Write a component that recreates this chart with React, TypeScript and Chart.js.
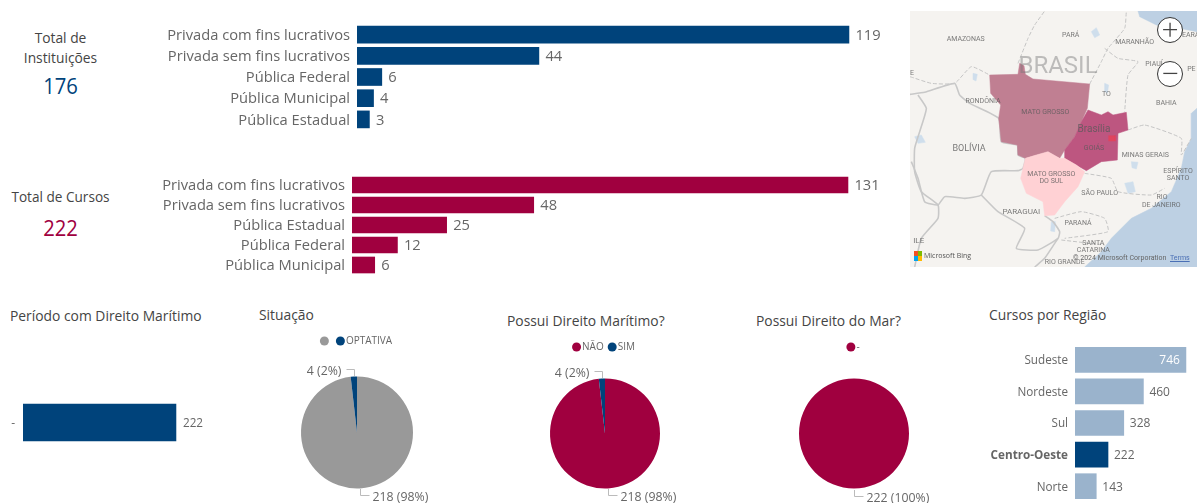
import React, { useEffect, useRef } from "react";
import { Chart, registerables } from "chart.js";

Chart.register(...registerables);

const FONT = '"Open Sans", "Noto Sans", sans-serif';
const BLUE = "#00437b";
const CRIMSON = "#a0003f";
const GRAY = "#999999";
const PALE = "#9ab3cc";
const TEXT = "#666666";
const TITLE = "#444444";

const instLabels = ["Privada com fins lucrativos", "Privada sem fins lucrativos", "Pública Federal", "Pública Municipal", "Pública Estadual"];
const instValues = [119, 44, 6, 4, 3];
const courseLabels = ["Privada com fins lucrativos", "Privada sem fins lucrativos", "Pública Estadual", "Pública Federal", "Pública Municipal"];
const courseValues = [131, 48, 25, 12, 6];
const periodLabels = ["-"];
const periodValues = [222];
const regionLabels = ["Sudeste", "Nordeste", "Sul", "Centro-Oeste", "Norte"];
const regionValues = [746, 460, 328, 222, 143];
const regionHighlight = "Centro-Oeste";
const situationLabels = ["", "OPTATIVA"];
const situationValues = [218, 4];
const maritimeLabels = ["NÃO", "SIM"];
const maritimeValues = [218, 4];
const seaLabels = ["-"];
const seaValues = [222];

// Map shapes, in map units
const matoGrosso = [[340,208],[345,175],[358,182],[362,208],[385,222],[555,237],[548,310],[530,350],[510,395],[480,435],[465,460],[430,440],[395,450],[362,460],[340,450],[338,420],[290,410],[282,340],[288,300],[258,265],[255,210]];
const goias = [[550,315],[590,330],[610,320],[625,330],[665,322],[670,375],[640,385],[638,465],[590,470],[545,497],[515,480],[480,460],[480,435],[510,395],[530,350]];
const msul = [[362,460],[395,450],[430,440],[465,460],[480,460],[515,480],[540,500],[520,545],[480,590],[450,630],[420,632],[415,590],[365,565],[348,520],[355,490]];
const df = [[612,392],[632,392],[632,408],[612,408]];
const oceanSouth = [[877,310],[860,325],[860,400],[840,440],[830,490],[800,560],[740,610],[680,640],[620,700],[590,740],[540,786],[877,786]];
const oceanNorth = [[700,18],[705,35],[755,60],[800,65],[877,80],[877,18]];
const solidBorders = [
  [[16,268],[60,262],[150,235],[165,270],[195,295],[282,340],[290,410],[338,420],[340,450],[362,460],[355,490],[340,497],[260,500],[230,570],[180,580],[120,575],[100,600],[60,590],[40,520],[20,470]],
  [[40,270],[65,310],[45,380],[30,430],[30,500],[50,560],[100,600],[100,640],[50,700],[30,786]],
  [[230,570],[280,620],[360,670],[335,730],[400,735],[460,700],[465,680],[445,650],[420,632]],
  [[460,700],[420,760],[390,786]],
];
const dashedBorders = [
  [[340,175],[350,150],[370,100],[390,60],[420,18]],
  [[16,215],[80,235],[150,235],[200,185],[255,210]],
  [[555,237],[590,170],[610,130],[660,70],[665,18]],
  [[600,130],[640,160],[700,170],[670,210],[660,320]],
  [[670,375],[720,360],[830,400],[830,450],[860,400]],
  [[540,505],[620,520],[640,560],[740,570],[780,550]],
  [[450,640],[530,620],[600,640],[610,680],[480,700]],
  [[470,705],[600,720]],
];
const lakes = [
  [[560,80],[575,68],[585,90],[570,98]],
  [[600,235],[612,240],[608,265],[598,258]],
  [[30,395],[50,390],[62,412],[40,415]],
  [[660,535],[685,530],[692,560],[670,565]],
  [[680,470],[700,472],[695,492],[682,488]],
  [[205,205],[218,208],[214,228],[206,224]],
  [[440,650],[452,650],[450,680],[438,678]],
];
const mapLabels: [string, number, number, number][] = [
  ["AMAZONAS",183,102,7], ["PARÁ",498,92,7], ["MARANHÃO",690,112,7], ["EARÁ",858,92,7], ["PIAUÍ",748,178,7], ["PE",860,192,7],
  ["E",22,205,7], ["RONDÔNIA",235,290,7], ["TO",605,268,7], ["BAHIA",785,295,7], ["MATO GROSSO",422,323,7], ["GOIÁS",568,430,7],
  ["BOLÍVIA",193,430,9], ["MINAS GERAIS",722,450,7], ["ESPÍRITO",820,498,7], ["SANTO",820,520,7], ["MATO GROSSO",440,508,7], ["DO SUL",440,530,7],
  ["SÃO PAULO",585,566,7], ["RIO",772,578,7], ["DE JANEIRO",770,600,7], ["PARAGUAI",350,620,8], ["PARANÁ",520,655,7], ["SANTA",566,715,7], ["CATARINA",566,736,7],
  ["ILE",42,708,8], ["RIO GRANDE",480,773,7], ["Brasília",568,373,10], ["BRASIL",460,185,24],
];

function HBar(p: any) {
  const ref = useRef<HTMLCanvasElement>(null);
  useEffect(() => {
    const plotW = p.width - p.axisWidth;
    const valuePlugin = {
      id: "values",
      afterDatasetsDraw(c: any) {
        const ctx = c.ctx;
        const meta = c.getDatasetMeta(0);
        ctx.save();
        ctx.font = `${p.valueSize}px ${FONT}`;
        ctx.textBaseline = "middle";
        meta.data.forEach((el: any, i: number) => {
          const txt = String(p.values[i]);
          const w = ctx.measureText(txt).width;
          if (el.x + 5 + w > c.width) {
            ctx.fillStyle = "#ffffff";
            ctx.fillText(txt, el.x - w - 6, el.y + 1);
          } else {
            ctx.fillStyle = TEXT;
            ctx.fillText(txt, el.x + p.valueGap, el.y + 1);
          }
        });
        ctx.restore();
      },
    };
    const chart = new Chart(ref.current!, {
      type: "bar",
      data: {
        labels: p.labels,
        datasets: [{
          data: p.values,
          backgroundColor: p.labels.map((l: string) => (p.highlight ? (l === p.highlight ? BLUE : PALE) : p.color)),
          barThickness: p.thickness,
        }],
      },
      options: {
        indexAxis: "y",
        animation: false,
        responsive: false,
        layout: { padding: 0, autoPadding: false },
        plugins: { legend: { display: false }, tooltip: { enabled: false } },
        scales: {
          x: { display: false, min: 0, max: plotW / p.pxPerUnit },
          y: {
            grid: { display: false, drawTicks: false },
            border: { display: false },
            afterFit: (s: any) => { s.width = p.axisWidth; s.paddingTop = 0; s.paddingBottom = 0; },
            ticks: {
              autoSkip: false,
              padding: p.tickPad,
              labelOffset: 1,
              color: TEXT,
              font: (ctx: any) => ({
                family: FONT,
                size: p.tickSize,
                weight: p.highlight && p.labels[ctx.index] === p.highlight ? "bold" : "normal",
              }),
            },
          },
        },
      },
      plugins: [valuePlugin],
    } as any);
    return () => chart.destroy();
  }, []);
  return <canvas ref={ref} width={p.width} height={p.height} style={{ position: "absolute", left: p.left, top: p.top, width: p.width, height: p.height }} />;
}

function Pie(p: any) {
  const ref = useRef<HTMLCanvasElement>(null);
  useEffect(() => {
    const total = p.values.reduce((a: number, b: number) => a + b, 0);
    const plugin = {
      id: "pieDecor",
      afterDatasetsDraw(c: any) {
        const ctx = c.ctx;
        ctx.save();
        // legend
        ctx.font = `10px ${FONT}`;
        ctx.textBaseline = "middle";
        const r = 4.5;
        const widths = p.labels.map((l: string) => 2 * r + 1 + ctx.measureText(l).width);
        const tw = widths.reduce((a: number, b: number) => a + b, 0) + (p.labels.length - 1) * p.legendGap;
        let x = c.width / 2 - tw / 2 + p.legendShift;
        p.labels.forEach((l: string, i: number) => {
          ctx.fillStyle = p.colors[i];
          ctx.beginPath();
          ctx.arc(x + r, p.legendY, r, 0, Math.PI * 2);
          ctx.fill();
          ctx.fillStyle = TEXT;
          ctx.fillText(l, x + 2 * r + 1, p.legendY);
          x += widths[i] + p.legendGap;
        });
        // leader lines and value labels
        ctx.font = `12.3px ${FONT}`;
        const meta = c.getDatasetMeta(0);
        meta.data.forEach((arc: any, i: number) => {
          const a = (arc.startAngle + arc.endAngle) / 2;
          const px = Math.round(arc.x + (arc.outerRadius + 1) * Math.cos(a)) + 0.5;
          const py = Math.round(arc.y + (arc.outerRadius + 1) * Math.sin(a));
          const up = Math.sin(a) < 0;
          const txt = `${p.values[i]} (${Math.round((p.values[i] / total) * 100)}%)`;
          ctx.strokeStyle = "#bbbbbb";
          ctx.lineWidth = 1;
          ctx.beginPath();
          ctx.moveTo(px, py);
          const ly = py + (up ? -7 : 6) + 0.5;
          const lx = px + (up ? -8 : 9);
          ctx.lineTo(px, ly);
          ctx.lineTo(lx, ly);
          ctx.stroke();
          ctx.fillStyle = TEXT;
          ctx.textAlign = up ? "right" : "left";
          ctx.fillText(txt, lx + (up ? -5 : 3), ly + 2);
        });
        ctx.restore();
      },
    };
    const chart = new Chart(ref.current!, {
      type: "pie",
      data: { labels: p.labels, datasets: [{ data: p.values, backgroundColor: p.colors, borderWidth: 0, radius: p.radius }] },
      options: {
        animation: false,
        responsive: false,
        layout: { padding: { top: p.padTop, bottom: p.padBottom, left: 0, right: 0 } },
        plugins: { legend: { display: false }, tooltip: { enabled: false } },
      },
      plugins: [plugin],
    } as any);
    return () => chart.destroy();
  }, []);
  return <canvas ref={ref} width={p.width} height={p.height} style={{ position: "absolute", left: p.left, top: p.top, width: p.width, height: p.height }} />;
}

function MapChart() {
  const ref = useRef<HTMLCanvasElement>(null);
  useEffect(() => {
    const toPts = (a: number[][]) => a.map(([x, y]) => ({ x, y }));
    const area = (pts: number[][], color: string) => ({
      type: "line", data: toPts([...pts, pts[0]]), backgroundColor: color, borderColor: color, borderWidth: 0.5,
      fill: "shape", pointRadius: 0, tension: 0,
    });
    const line = (pts: number[][], color: string, width: number, dash: number[]) => ({
      type: "line", data: toPts(pts), borderColor: color, borderWidth: width, borderDash: dash, fill: false, pointRadius: 0, tension: 0.15,
    });
    const labelPlugin = {
      id: "mapLabels",
      afterDatasetsDraw(c: any) {
        const ctx = c.ctx;
        const sx = c.scales.x;
        const sy = c.scales.y;
        ctx.save();
        ctx.textAlign = "center";
        ctx.textBaseline = "middle";
        mapLabels.forEach(([t, x, y, size]) => {
          ctx.font = `${size}px Roboto, sans-serif`;
          ctx.fillStyle = size > 20 ? "rgba(120,120,120,0.45)" : "rgba(90,90,90,0.8)";
          ctx.fillText(t, sx.getPixelForValue(x), sy.getPixelForValue(y));
        });
        ctx.restore();
      },
    };
    const bottomToTop = [
      area(oceanSouth, "#bdd0e3"),
      area(oceanNorth, "#bdd0e3"),
      ...lakes.map((l) => area(l, "#cfdeec")),
      ...dashedBorders.map((l) => line(l, "#c4c4c4", 1, [4, 2])),
      ...solidBorders.map((l) => line(l, "#c8c8c8", 1.6, [])),
      area(matoGrosso, "#c07f92"),
      area(goias, "#bd5680"),
      area(msul, "#ffd1d4"),
      area(df, "#e0455f"),
    ];
    const chart = new Chart(ref.current!, {
      type: "line",
      data: { datasets: bottomToTop.reverse() },
      options: {
        animation: false,
        responsive: false,
        layout: { padding: 0, autoPadding: false },
        plugins: { legend: { display: false }, tooltip: { enabled: false } },
        scales: {
          x: { type: "linear", display: false, min: 16, max: 877 },
          y: { type: "linear", display: false, min: 18, max: 786, reverse: true },
        },
      },
      plugins: [labelPlugin],
    } as any);
    return () => chart.destroy();
  }, []);
  return (
    <div style={{ position: "absolute", left: 910, top: 11, width: 287, height: 256, background: "#f5f3f0", overflow: "hidden" }}>
      <canvas ref={ref} width={287} height={256} style={{ position: "absolute", left: 0, top: 0, width: 287, height: 256, filter: "blur(0.4px)" }} />
      <MapButton top={6} label="+" />
      <MapButton top={50} label="−" />
      <div style={{ position: "absolute", left: 4, top: 240, width: 8, height: 5, background: "linear-gradient(90deg,#f25022 50%,#7fba00 50%)" }} />
      <div style={{ position: "absolute", left: 4, top: 245, width: 8, height: 5, background: "linear-gradient(90deg,#00a4ef 50%,#ffb900 50%)" }} />
      <div style={{ position: "absolute", left: 14, top: 240, font: `7px ${FONT}`, color: "#555", whiteSpace: "nowrap" }}>Microsoft Bing</div>
      <div style={{ position: "absolute", left: 163, top: 243, font: `7px Roboto, sans-serif`, color: "#666", whiteSpace: "nowrap" }}>© 2024 Microsoft Corporation</div>
      <div style={{ position: "absolute", left: 260, top: 243, font: `7px Roboto, sans-serif`, color: "#4a6fb5", textDecoration: "underline", whiteSpace: "nowrap" }}>Terms</div>
    </div>
  );
}

function MapButton({ top, label }: { top: number; label: string }) {
  return (
    <div style={{ position: "absolute", left: 247, top, width: 24, height: 24, borderRadius: "50%", border: "1.5px solid #333", background: "#fff", color: "#444", textAlign: "center", font: `300 30px/22px ${FONT}` }}>{label}</div>
  );
}

function Txt({ x, y, w, align = "left", size = 14, color = TITLE, children, extra }: any) {
  return (
    <div style={{ position: "absolute", left: x, top: y, width: w, textAlign: align, fontFamily: FONT, fontSize: size, color, whiteSpace: "nowrap", lineHeight: "20px", ...extra }}>{children}</div>
  );
}

const kpiStyle = { transform: "scaleX(0.92)", fontWeight: 500 };

export default function App() {
  return (
    <div style={{ position: "absolute", left: 0, top: 0, width: 1197, height: 503, background: "#fff", overflow: "hidden" }}>
      <Txt x={0} y={28} w={121} align="center" size={13.8}>Total de</Txt>
      <Txt x={0} y={48} w={121} align="center" size={13.8}>Instituições</Txt>
      <Txt x={0} y={75} w={121} align="center" size={22} color={BLUE} extra={kpiStyle}>176</Txt>
      <Txt x={0} y={187} w={121} align="center" size={13.6}>Total de Cursos</Txt>
      <Txt x={0} y={217} w={121} align="center" size={22} color={CRIMSON} extra={kpiStyle}>222</Txt>

      <HBar left={140} top={24} width={760} height={106} axisWidth={217} labels={instLabels} values={instValues} color={BLUE} pxPerUnit={4.134} thickness={17} tickSize={14.7} tickPad={7} valueSize={14.7} valueGap={6.5} />
      <HBar left={140} top={175} width={760} height={100} axisWidth={212} labels={courseLabels} values={courseValues} color={CRIMSON} pxPerUnit={3.786} thickness={16} tickSize={14.7} tickPad={7} valueSize={14.7} valueGap={6.5} />

      <MapChart />

      <Txt x={10} y={306} size={13.85}>Período com Direito Marítimo</Txt>
      <Txt x={259} y={305} size={13.85}>Situação</Txt>
      <Txt x={507} y={311} size={13.85}>Possui Direito Marítimo?</Txt>
      <Txt x={756} y={311} size={13.85}>Possui Direito do Mar?</Txt>
      <Txt x={989} y={305} size={13.85}>Cursos por Região</Txt>

      <HBar left={5} top={395} width={220} height={55} axisWidth={18} labels={periodLabels} values={periodValues} color={BLUE} pxPerUnit={0.689} thickness={37} tickSize={12} tickPad={8} valueSize={11.7} valueGap={7} />

      <Pie left={250} top={330} width={214} height={173} labels={situationLabels} values={situationValues} colors={[GRAY, BLUE]} radius={56} padTop={32} padBottom={0} legendY={11} legendGap={6} legendShift={-1} />
      <Pie left={498} top={335} width={214} height={168} labels={maritimeLabels} values={maritimeValues} colors={[CRIMSON, BLUE]} radius={55} padTop={29} padBottom={0} legendY={12} legendGap={4} legendShift={-1.5} />
      <Pie left={747} top={335} width={214} height={168} labels={seaLabels} values={seaValues} colors={[CRIMSON]} radius={55} padTop={29} padBottom={0} legendY={12} legendGap={3} legendShift={-1} />

      <HBar left={985} top={344} width={212} height={158} axisWidth={90} labels={regionLabels} values={regionValues} highlight={regionHighlight} pxPerUnit={0.1487} thickness={25} tickSize={11.7} tickPad={7} valueSize={12} valueGap={6} />
    </div>
  );
}
